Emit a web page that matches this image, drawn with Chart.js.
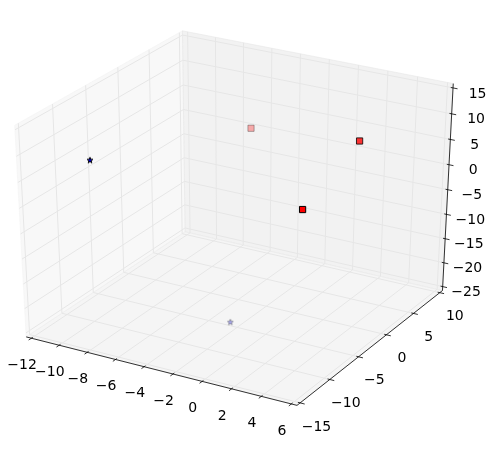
<!DOCTYPE html>
<html>
<head>
<meta charset="utf-8">
<script src="https://cdn.jsdelivr.net/npm/chart.js@4.4.1/dist/chart.umd.min.js"></script>
<style>
  html, body { margin: 0; padding: 0; background: #fff; }
  #wrap { width: 503px; height: 452px; position: relative; }
</style>
</head>
<body>
<div id="wrap"><canvas id="scatter3d"></canvas></div>
<script>
// tick values on each axis (the first and last tick are the axis limits)
const xTicks = [-12, -10, -8, -6, -4, -2, 0, 2, 4, 6];
const yTicks = [-15, -10, -5, 0, 5, 10];
const zTicks = [-25, -20, -15, -10, -5, 0, 5, 10, 15];

// red squares
const squareX = [4.8, 4.52, -6.29];
const squareY = [-11.1, -0.99, 7.7];
const squareZ = [7.24, 12.16, 1.8];

// blue stars
const starX = [-10.8, -1.61];
const starY = [-8.1, -7.07];
const starZ = [4.56, -22.65];

// camera like mplot3d defaults
const elev = 30, azim = -60, dist = 10;

const lims = [
  [xTicks[0], xTicks[xTicks.length - 1]],
  [yTicks[0], yTicks[yTicks.length - 1]],
  [zTicks[0], zTicks[zTicks.length - 1]]
];

const dot = (a, b) => a[0] * b[0] + a[1] * b[1] + a[2] * b[2];
const cross = (a, b) => [a[1] * b[2] - a[2] * b[1], a[2] * b[0] - a[0] * b[2], a[0] * b[1] - a[1] * b[0]];

const re = elev * Math.PI / 180, ra = azim * Math.PI / 180;
const nV = [Math.cos(ra) * Math.cos(re), Math.sin(ra) * Math.cos(re), Math.sin(re)];
let uV = [-nV[1], nV[0], 0];
const ul = Math.hypot(uV[0], uV[1]);
uV = uV.map(c => c / ul);
const vV = cross(nV, uV);

// unit cube coords (centered on 0) -> projected plane [tx, ty, depth]
function projUnit(q) {
  const X = dot(uV, q), Y = dot(vV, q), Z = dot(nV, q) - dist;
  return [X / -Z, Y / -Z, dist / Z];
}
function unit(v, i) {
  return (v - lims[i][0]) / (lims[i][1] - lims[i][0]) - 0.5;
}
function project(x, y, z) {
  return projUnit([unit(x, 0), unit(y, 1), unit(z, 2)]);
}

// part of the projected plane shown on the canvas
const viewX = [-0.07921, 0.08841];
const viewY = [-0.10377, 0.09121];

// depth shading as mplot3d does it (nearest = opaque, farthest = 0.3)
function shade(depths) {
  const lo = Math.min(...depths), hi = Math.max(...depths);
  return depths.map(d => 1 - 0.7 * (hi > lo ? (d - lo) / (hi - lo) : 0));
}

function makeSeries(xs, ys, zs) {
  const pr = xs.map((x, i) => project(x, ys[i], zs[i]));
  return {
    pts: pr.map(p => ({ x: p[0], y: p[1] })),
    alpha: shade(pr.map(p => p[2]))
  };
}

const squares = makeSeries(squareX, squareY, squareZ);
const stars = makeSeries(starX, starY, starZ);

function starImage(fill, edge) {
  const c = document.createElement('canvas');
  c.width = c.height = 10;
  const g = c.getContext('2d');
  g.beginPath();
  for (let i = 0; i < 10; i++) {
    const r = i % 2 ? 3.1 * 0.381966 : 3.1;
    const a = -Math.PI / 2 + i * Math.PI / 5;
    g.lineTo(5 + r * Math.cos(a), 5 + r * Math.sin(a));
  }
  g.closePath();
  g.fillStyle = fill;
  g.fill();
  g.lineWidth = 1;
  g.strokeStyle = edge;
  g.stroke();
  return c;
}

const starImgs = stars.alpha.map(a => starImage('rgba(0,0,255,' + a + ')', 'rgba(0,0,0,' + a + ')'));

const axes3d = {
  id: 'axes3d',
  beforeDatasetsDraw(chart) {
    const ctx = chart.ctx;
    const sx = chart.scales.x, sy = chart.scales.y;
    const P = q => {
      const t = projUnit(q);
      return [sx.getPixelForValue(t[0]), sy.getPixelForValue(t[1])];
    };
    const lo = -0.5 - 1 / 48, hi = 0.5 + 1 / 48;
    const d = 1 / 12;
    const L = 0.0606;

    function path(qs) {
      ctx.beginPath();
      qs.forEach((q, i) => {
        const p = P(q);
        if (i) ctx.lineTo(p[0], p[1]); else ctx.moveTo(p[0], p[1]);
      });
    }

    ctx.save();
    // panes
    const panes = [
      { pts: [[lo, lo, lo], [lo, hi, lo], [lo, hi, hi], [lo, lo, hi]], color: 'rgba(242,242,242,0.5)' },
      { pts: [[lo, hi, lo], [hi, hi, lo], [hi, hi, hi], [lo, hi, hi]], color: 'rgba(230,230,230,0.5)' },
      { pts: [[lo, lo, lo], [hi, lo, lo], [hi, hi, lo], [lo, hi, lo]], color: 'rgba(236,236,236,0.5)' }
    ];
    panes.forEach(pn => {
      path(pn.pts);
      ctx.closePath();
      ctx.fillStyle = pn.color;
      ctx.fill();
      ctx.strokeStyle = pn.color;
      ctx.lineWidth = 1;
      ctx.stroke();
    });

    const fmt = v => String(v).replace('-', '\u2212');
    ctx.font = '14px "DejaVu Sans"';
    ctx.textAlign = 'center';
    ctx.textBaseline = 'alphabetic';

    const axes = [
      {
        ticks: xTicks, i: 0,
        grid: q => [[q, lo, lo], [q, hi, lo], [q, hi, hi]],
        line: [[lo, lo, lo], [hi, lo, lo]],
        tick: q => [[q, lo + 0.1 * d, lo], [q, lo - 0.2 * d, lo]],
        label: q => [q, lo - L, lo - L]
      },
      {
        ticks: yTicks, i: 1,
        grid: q => [[lo, q, hi], [lo, q, lo], [hi, q, lo]],
        line: [[hi, hi, lo], [hi, lo, lo]],
        tick: q => [[hi - 0.1 * d, q, lo], [hi + 0.2 * d, q, lo]],
        label: q => [hi + L, q, lo - L]
      },
      {
        ticks: zTicks, i: 2,
        grid: q => [[hi, hi, q], [lo, hi, q], [lo, lo, q]],
        line: [[hi, hi, lo], [hi, hi, hi]],
        tick: q => [[hi - 0.1 * d, hi, q], [hi + 0.2 * d, hi, q]],
        label: q => [hi + L, hi + L, q]
      }
    ];

    axes.forEach(ax => {
      ctx.strokeStyle = '#e6e6e6';
      ctx.lineWidth = 1;
      ax.ticks.forEach(t => {
        path(ax.grid(unit(t, ax.i)));
        ctx.stroke();
      });
      ctx.strokeStyle = '#000';
      ctx.lineWidth = 0.8;
      path(ax.line);
      ctx.stroke();
      ax.ticks.forEach(t => {
        const q = unit(t, ax.i);
        path(ax.tick(q));
        ctx.stroke();
        const p = P(ax.label(q));
        ctx.fillStyle = '#000';
        ctx.fillText(fmt(t), p[0], p[1] + 12);
      });
    });
    ctx.restore();
  }
};

new Chart(document.getElementById('scatter3d'), {
  type: 'scatter',
  data: {
    datasets: [
      {
        label: 'squares',
        data: squares.pts,
        pointStyle: 'rect',
        pointRadius: 4.4,
        pointHoverRadius: 4.4,
        pointBackgroundColor: squares.alpha.map(a => 'rgba(255,0,0,' + a + ')'),
        pointBorderColor: squares.alpha.map(a => 'rgba(0,0,0,' + a + ')'),
        pointBorderWidth: 1
      },
      {
        label: 'stars',
        data: stars.pts,
        pointStyle: starImgs,
        pointRadius: 5,
        pointHoverRadius: 5
      }
    ]
  },
  options: {
    responsive: true,
    maintainAspectRatio: false,
    animation: false,
    layout: { padding: 0, autoPadding: false },
    scales: {
      x: { type: 'linear', min: viewX[0], max: viewX[1], display: false },
      y: { type: 'linear', min: viewY[0], max: viewY[1], display: false }
    },
    plugins: {
      legend: { display: false },
      tooltip: { enabled: false }
    }
  },
  plugins: [axes3d]
});
</script>
</body>
</html>
